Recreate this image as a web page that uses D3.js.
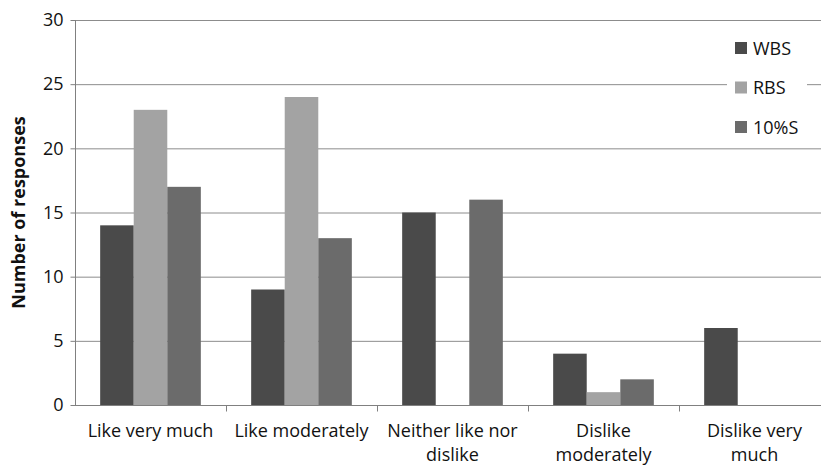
<!DOCTYPE html>
<html>
<head>
<meta charset="utf-8">
<script src="https://cdn.jsdelivr.net/npm/d3@7"></script>
<style>
  body { margin: 0; background: #fff; }
  text { font-family: "Open Sans", sans-serif; fill: #111; }
</style>
</head>
<body>
<svg id="chart" width="821" height="465"></svg>
<script>
// chart data
var categories = ["Like very much", "Like moderately", "Neither like nor dislike", "Dislike moderately", "Dislike very much"];
var categoryLines = [["Like very much"], ["Like moderately"], ["Neither like nor", "dislike"], ["Dislike", "moderately"], ["Dislike very", "much"]];
var series = ["WBS", "RBS", "10%S"];
var wbs = [14, 9, 15, 4, 6];
var rbs = [23, 24, 0, 1, 0];
var tenS = [17, 13, 16, 2, 0];
var yTicks = [0, 5, 10, 15, 20, 25, 30];
var colors = ["#4a4a4a", "#a3a3a3", "#6b6b6b"];

var values = [wbs, rbs, tenS];
var svg = d3.select("#chart");

var x0 = d3.scaleBand().domain(categories).range([75, 830]);
var bw = x0.bandwidth();
var x1 = d3.scaleBand().domain(series).range([bw / 6, bw * 5 / 6]);
var y = d3.scaleLinear().domain([0, 30]).range([405, 20]);

// gridlines
svg.append("g")
  .selectAll("line")
  .data(yTicks.slice(1))
  .enter()
  .append("line")
  .attr("x1", 75).attr("x2", 821)
  .attr("y1", d => y(d) + 0.5).attr("y2", d => y(d) + 0.5)
  .attr("stroke", "#8c8c8c").attr("stroke-width", 1);

// bars
var groups = svg.append("g")
  .selectAll("g")
  .data(categories)
  .enter()
  .append("g")
  .attr("transform", d => `translate(${x0(d)},0)`);

groups.selectAll("rect")
  .data((c, i) => series.map((s, j) => ({s: s, v: values[j][i], j: j})))
  .enter()
  .append("rect")
  .attr("x", d => x1(d.s))
  .attr("width", x1.bandwidth())
  .attr("y", d => y(d.v))
  .attr("height", d => y(0) - y(d.v))
  .attr("fill", d => colors[d.j]);

// y axis
var yAxis = svg.append("g")
  .attr("transform", "translate(75.5,0)")
  .call(d3.axisLeft(y).tickValues(yTicks).tickSize(5).tickPadding(7));
yAxis.selectAll("path, line").attr("stroke", "#808080");
yAxis.selectAll("text").style("font-size", "18px").attr("fill", "#111");
yAxis.select(".domain").attr("d", "M0," + y(30) + "V" + y(0));

// x axis
var xAxis = svg.append("g")
  .attr("transform", "translate(0," + (y(0) + 0.5) + ")");
xAxis.append("line")
  .attr("x1", 75).attr("x2", 821)
  .attr("stroke", "#808080");
xAxis.selectAll(".tick")
  .data(categories.slice(1))
  .enter()
  .append("line")
  .attr("x1", d => x0(d) + 0.5).attr("x2", d => x0(d) + 0.5)
  .attr("y1", 0).attr("y2", 6)
  .attr("stroke", "#808080");

var labels = xAxis.selectAll(".lbl")
  .data(categories)
  .enter()
  .append("text")
  .attr("text-anchor", "middle")
  .attr("x", d => x0(d) + bw / 2)
  .style("font-size", "18px");
labels.selectAll("tspan")
  .data((d, i) => categoryLines[i])
  .enter()
  .append("tspan")
  .attr("x", function() { return this.parentNode.getAttribute("x"); })
  .attr("y", (d, k) => 31 + k * 24)
  .text(d => d);

// y axis title
svg.append("text")
  .attr("transform", "translate(25," + (y(15)) + ") rotate(-90)")
  .attr("text-anchor", "middle")
  .style("font-size", "18px")
  .style("font-weight", "bold")
  .text("Number of responses");

// legend
var legend = svg.append("g");
legend.append("rect")
  .attr("x", 727).attr("y", 30).attr("width", 80).attr("height", 115)
  .attr("fill", "#fff");
var items = legend.selectAll(".item")
  .data(series)
  .enter()
  .append("g")
  .attr("transform", (d, i) => `translate(735,${48 + i * 39.5})`);
items.append("rect")
  .attr("x", 0).attr("y", -6).attr("width", 12).attr("height", 12)
  .attr("fill", (d, i) => colors[i]);
items.append("text")
  .attr("x", 18).attr("y", 6.5)
  .style("font-size", "18px")
  .text(d => d);
</script>
</body>
</html>
